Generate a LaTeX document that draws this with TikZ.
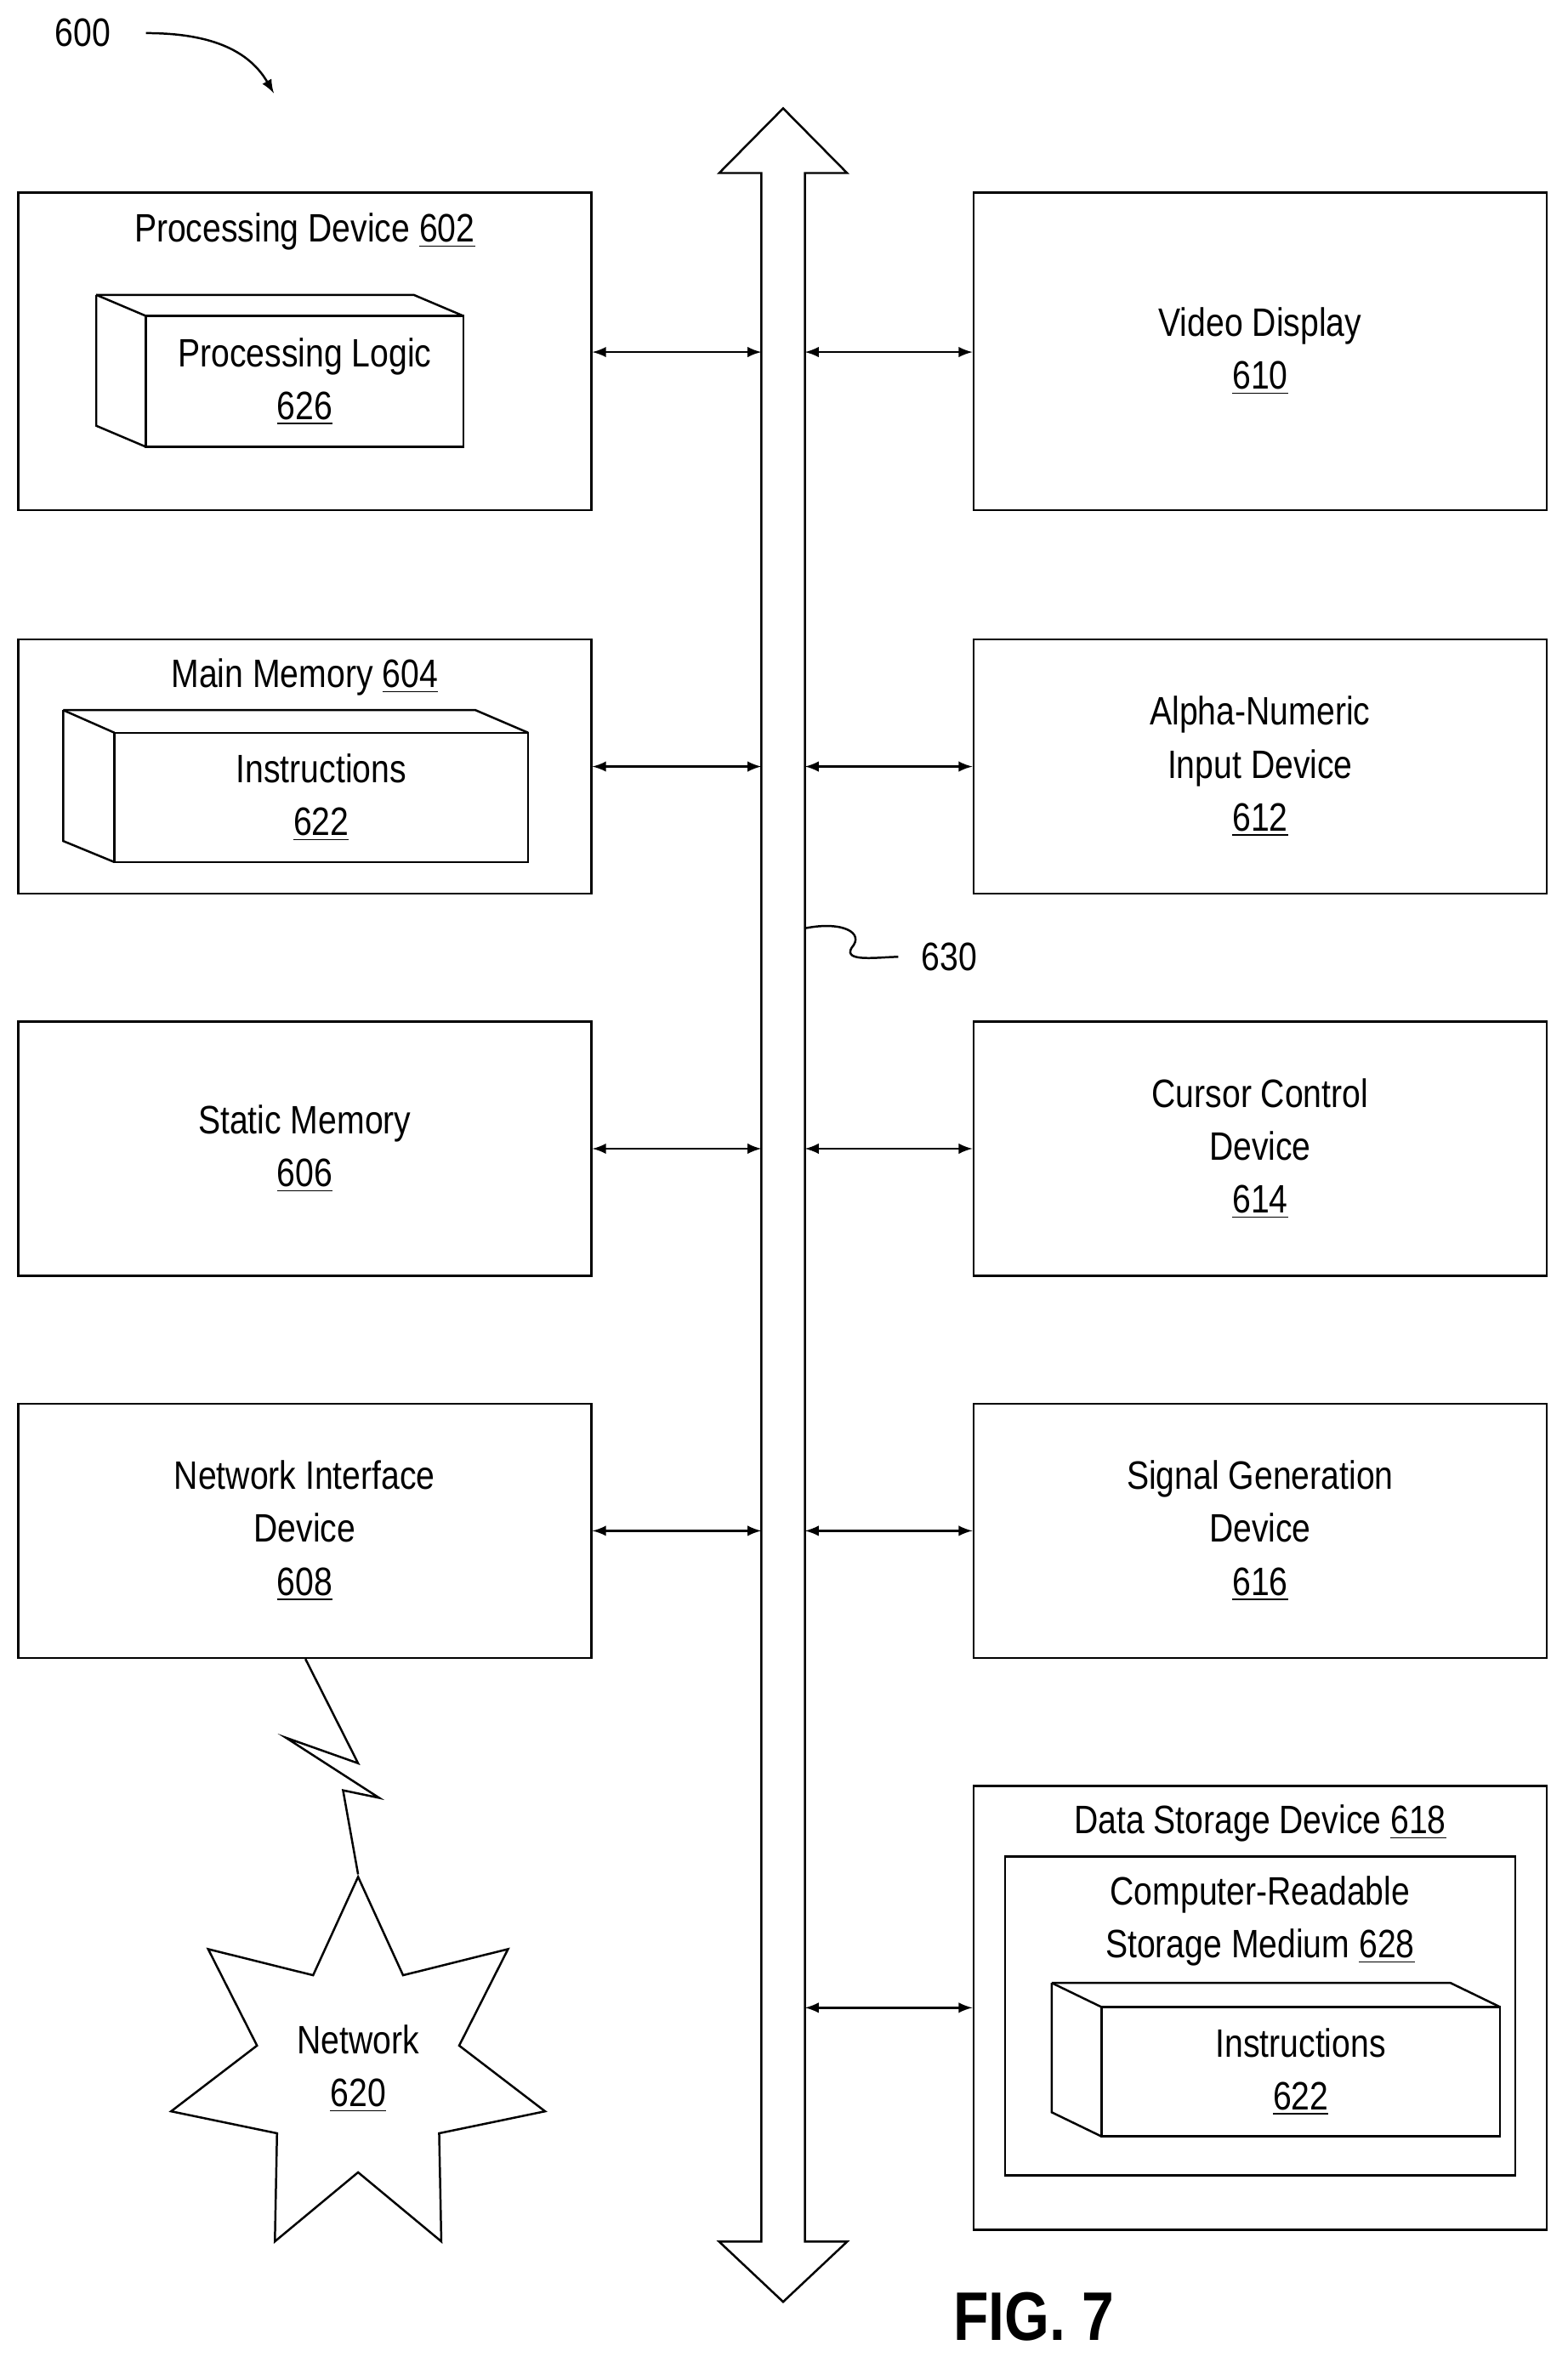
\documentclass[tikz,border=0pt]{standalone}
\usepackage{fontspec}
\setmainfont{Liberation Sans}[FakeStretch=0.84]
\usetikzlibrary{arrows,positioning,shapes,shapes.geometric}

\begin{document}
\begin{tikzpicture}[x=0.02cm, y=-0.02cm, line width=0.8pt,
    every node/.style={font=\fontsize{15}{20}\selectfont, align=center},
    box/.style={draw, rectangle, inner sep=0pt},
    link/.style={latex-latex, line width=0.8pt}
]
    \useasboundingbox (0,0) rectangle (1042,1570);

    % bus
    \coordinate (bus_left) at (506,0);
    \coordinate (bus_right) at (535,0);
    \draw (506,115) -- (478,115) -- (520.5,72) -- (563,115) -- (535,115)
        -- (535,1490) -- (563,1490) -- (520.5,1530) -- (478,1490) -- (506,1490) -- cycle;

    \node (label_600) at (55,22) {600};
    \draw[-latex] (97,22) to[out=0, in=120] (182,62);

    \node (label_630) at (631,636) {630};
    \draw (535,617) .. controls (560,612) and (575,620) .. (566,630)
        .. controls (560,640) and (585,636) .. (597,636);

    % left column
    \node (processing_device) [box, minimum width=7.62cm, minimum height=4.22cm] at (202.5,233.5) {};
    \node at (202.5,154) {Processing Device \underline{602}};
    \draw (64,196) -- (275,196) -- (308,210);
    \draw (64,196) -- (97,210);
    \draw (64,196) -- (64,283) -- (97,297);
    \node (processing_logic) [box, fill=white, minimum width=4.22cm, minimum height=1.74cm] at (202.5,253.5)
    {
        Processing Logic\\ \underline{626}
    };

    \node (main_memory) [box, minimum width=7.62cm, minimum height=3.38cm] at (202.5,509.5) {};
    \node at (202.5,450) {Main Memory \underline{604}};
    \draw (42,472) -- (316,472) -- (351,487);
    \draw (42,472) -- (76,487);
    \draw (42,472) -- (42,559) -- (76,573);
    \node (instructions_main) [box, fill=white, minimum width=5.5cm, minimum height=1.72cm] at (213.5,530)
    {
        Instructions\\ \underline{622}
    };

    \node (static_memory) [box, minimum width=7.62cm, minimum height=3.38cm] at (202.5,763.5)
    {
        Static Memory\\ \underline{606}
    };

    \node (network_interface) [box, minimum width=7.62cm, minimum height=3.38cm] at (202.5,1017.5)
    {
        Network Interface\\ Device\\ \underline{608}
    };

    % right column
    \node (video_display) [box, minimum width=7.62cm, minimum height=4.22cm] at (837.5,233.5)
    {
        Video Display\\ \underline{610}
    };

    \node (alpha_numeric) [box, minimum width=7.62cm, minimum height=3.38cm] at (837.5,509.5)
    {
        Alpha-Numeric\\ Input Device\\ \underline{612}
    };

    \node (cursor_control) [box, minimum width=7.62cm, minimum height=3.38cm] at (837.5,763.5)
    {
        Cursor Control\\ Device\\ \underline{614}
    };

    \node (signal_generation) [box, minimum width=7.62cm, minimum height=3.38cm] at (837.5,1017.5)
    {
        Signal Generation\\ Device\\ \underline{616}
    };

    \node (data_storage) [box, minimum width=7.62cm, minimum height=5.9cm] at (837.5,1334.5) {};
    \node at (837.5,1212) {Data Storage Device \underline{618}};
    \node (storage_medium) [box, minimum width=6.78cm, minimum height=4.24cm] at (837.5,1340) {};
    \node at (837.5,1277) {Computer-Readable\\ Storage Medium \underline{628}};
    \draw (699,1318) -- (964,1318) -- (997,1334);
    \draw (699,1318) -- (732,1334);
    \draw (699,1318) -- (699,1404) -- (732,1420);
    \node (instructions_storage) [box, fill=white, minimum width=5.3cm, minimum height=1.72cm] at (864.5,1377)
    {
        Instructions\\ \underline{622}
    };

    % network
    \node (network) [draw, star, star points=7, star point ratio=1.85, minimum size=5.1cm,
        inner sep=0pt] at (238,1375)
    {
        Network\\ \underline{620}
    };
    \draw (network_interface.south -| 203,0) -- (238,1172) -- (190,1155) -- (252,1195)
        -- (228,1190) -- (network.north);

    % links to bus
    \draw[link] (processing_device.east |- 0,234) -- (bus_left |- 0,234);
    \draw[link] (main_memory.east) -- (bus_left |- main_memory.east);
    \draw[link] (static_memory.east) -- (bus_left |- static_memory.east);
    \draw[link] (network_interface.east) -- (bus_left |- network_interface.east);
    \draw[link] (video_display.west |- 0,234) -- (bus_right |- 0,234);
    \draw[link] (alpha_numeric.west) -- (bus_right |- alpha_numeric.west);
    \draw[link] (cursor_control.west) -- (bus_right |- cursor_control.west);
    \draw[link] (signal_generation.west) -- (bus_right |- signal_generation.west);
    \draw[link] (data_storage.west) -- (bus_right |- data_storage.west);

    \node (fig_label) at (687,1540) {\fontsize{26}{30}\selectfont\bfseries FIG. 7};
\end{tikzpicture}
\end{document}
